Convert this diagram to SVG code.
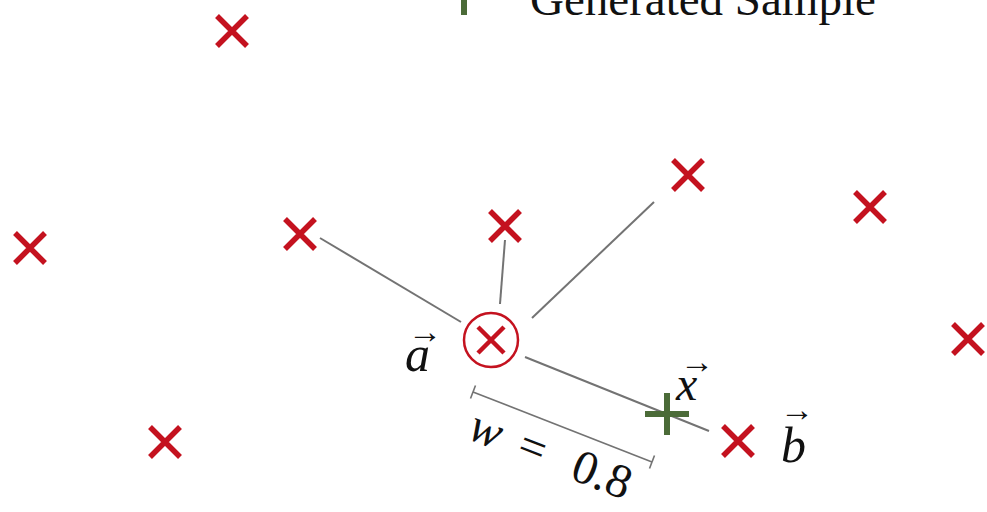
<svg xmlns="http://www.w3.org/2000/svg" xmlns:xlink="http://www.w3.org/1999/xlink" width="987" height="512" viewBox="0 0 987 512">
<style>
.bg{fill:#ffffff}
.cross{stroke:#c4121f;stroke-width:5.5;fill:none}
.crossS{stroke:#c4121f;stroke-width:4.5;fill:none}
.ring{stroke:#c4121f;stroke-width:2.5;fill:none}
.plus{stroke:#4b6b38;stroke-width:6;fill:none}
.conn{stroke:#737373;stroke-width:2;fill:none}
.dim{stroke:#737373;stroke-width:1.6;fill:none}
.lbl{font-family:"Liberation Serif","Times New Roman",serif;fill:#111111}
.it{font-style:italic}
.vec{font-family:"Liberation Serif","Times New Roman",serif;fill:#111111;font-size:34px}
</style>
<defs>
<path id="xm" d="M-15,-15L15,15M15,-15L-15,15"/>
<path id="pm" d="M-22,0H22M0,-21V21"/>
</defs>
<rect class="bg" x="0" y="0" width="987" height="512"/>
<g id="legend">
<use xlink:href="#pm" class="plus" x="464" y="-6"/>
<text class="lbl" x="530" y="15" font-size="47">Generated Sample</text>
</g>
<g id="connectors">
<line class="conn" x1="320" y1="238" x2="461" y2="322"/>
<line class="conn" x1="505" y1="240" x2="500" y2="304"/>
<line class="conn" x1="654" y1="202" x2="532" y2="318"/>
<line class="conn" x1="525" y1="357" x2="709" y2="431"/>
</g>
<g id="n1"><use xlink:href="#xm" class="cross" x="232" y="31"/></g>
<g id="n2"><use xlink:href="#xm" class="cross" x="30" y="248"/></g>
<g id="n3"><use xlink:href="#xm" class="cross" x="300" y="234"/></g>
<g id="n4"><use xlink:href="#xm" class="cross" x="505" y="226"/></g>
<g id="n5"><use xlink:href="#xm" class="cross" x="688" y="175"/></g>
<g id="n6"><use xlink:href="#xm" class="cross" x="870" y="207"/></g>
<g id="n7"><use xlink:href="#xm" class="cross" x="968" y="339"/></g>
<g id="n8"><use xlink:href="#xm" class="cross" x="165" y="442"/></g>
<g id="nb">
<use xlink:href="#xm" class="cross" x="738" y="441"/>
<text class="lbl it" x="781" y="462" font-size="50">b</text>
<text class="vec" x="780" y="421">→</text>
</g>
<g id="na">
<circle class="ring" cx="491" cy="340" r="27"/>
<path class="crossS" d="M478,327L504,353M504,327L478,353"/>
<text class="lbl it" x="405" y="371" font-size="50">a</text>
<text class="vec" x="408" y="343">→</text>
</g>
<g id="nx">
<use xlink:href="#pm" class="plus" x="667" y="414"/>
<text class="lbl it" x="676" y="400" font-size="48">x</text>
<text class="vec" x="680" y="373">→</text>
</g>
<g id="dimension">
<line class="dim" x1="473" y1="392" x2="652" y2="462"/>
<line class="dim" x1="475.5" y1="385.5" x2="470.5" y2="398.5"/>
<line class="dim" x1="654.5" y1="455.5" x2="649.5" y2="468.5"/>
<g transform="translate(466,438) rotate(21.4)">
<text class="lbl" y="0" font-size="48"><tspan class="it" x="0">w</tspan><tspan x="52">=</tspan><tspan x="110">0.8</tspan></text>
</g>
</g>
</svg>
